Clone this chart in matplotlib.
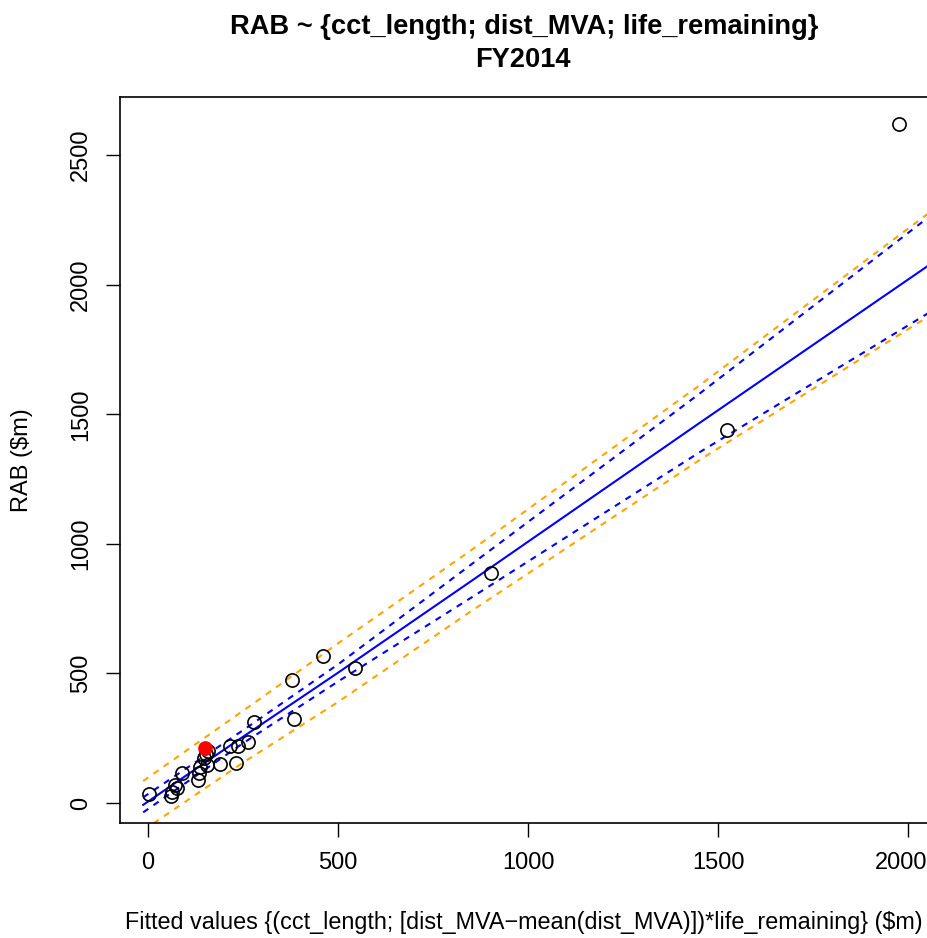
import matplotlib
matplotlib.use("Agg")
import matplotlib.pyplot as plt
import matplotlib.transforms as mtransforms

plt.rcParams['font.family'] = ['Liberation Sans', 'DejaVu Sans']

# fitted values vs RAB ($m)
fitted = [3, 60, 62, 71, 77, 89, 132, 135, 137, 154, 146, 153, 158, 189, 231,
          216, 236, 264, 278, 384, 378, 460, 545, 903, 1524, 1976]
rab = [35, 27, 44, 69, 57, 115, 89, 115, 140, 147, 172, 191, 200, 152, 155,
       220, 220, 237, 312, 324, 475, 568, 520, 887, 1439, 2620]

# highlighted business
hl_fitted = [150]
hl_rab = [213]

# regression line and bands
band_x = [-13, 250, 500, 850, 1450, 2060]
fit_y = [-7, 256, 503, 856, 1465, 2080]
conf_hi = [22, 281, 535, 920, 1578, 2267]
conf_lo = [-36, 231, 469, 792, 1352, 1896]
pred_hi = [85, 356, 616, 975, 1610, 2282]
pred_lo = [-105, 156, 390, 740, 1322, 1883]

fig = plt.figure(figsize=(9.28, 9.38), dpi=100)
ax = fig.add_axes([120 / 928, 1 - 823 / 938, 818 / 928, 726 / 938])

dash = (0, (3, 3))
ax.plot(band_x, pred_hi, color='orange', lw=1.5, linestyle=dash)
ax.plot(band_x, pred_lo, color='orange', lw=1.5, linestyle=dash)
ax.plot(band_x, conf_hi, color='blue', lw=1.5, linestyle=dash)
ax.plot(band_x, conf_lo, color='blue', lw=1.5, linestyle=dash)
ax.plot(band_x, fit_y, color='blue', lw=1.5)

ax.plot(fitted, rab, 'o', mfc='none', mec='black', ms=9.5, mew=1.2)
ax.plot(hl_fitted, hl_rab, 'o', mfc='red', mec='red', ms=9.5)

ax.set_xlim(-74, 2079)
ax.set_ylim(-77, 2724)
ax.set_xticks([0, 500, 1000, 1500, 2000])
ax.set_yticks([0, 500, 1000, 1500, 2000, 2500])
ax.tick_params(labelsize=17, length=10, width=1, pad=11)
ax.tick_params(axis='y', pad=10)
for lbl in ax.get_yticklabels():
    lbl.set_rotation(90)
    lbl.set_va('center')
for s in ax.spines.values():
    s.set_linewidth(1.2)

# last x label sits on the figure edge, nudge it in so it stays whole
last = ax.get_xticklabels()[-1]
last.set_transform(last.get_transform() +
                   mtransforms.ScaledTranslation(-7 / 100, 0, fig.dpi_scale_trans))

fig.text(524 / 928, 1 - 27 / 938, "RAB ~ {cct_length; dist_MVA; life_remaining}",
         ha='center', va='center', fontsize=19.6, fontweight='bold')
fig.text(523 / 928, 1 - 60 / 938, "FY2014", ha='center', va='center',
         fontsize=19.6, fontweight='bold')
fig.text(125 / 928, 1 - 922 / 938,
         "Fitted values {(cct_length; [dist_MVA\u2212mean(dist_MVA)])*life_remaining} ($m)",
         ha='left', va='center', fontsize=16.8)
fig.text(22 / 928, 1 - 460 / 938, "RAB ($m)", ha='center', va='center',
         rotation=90, fontsize=17)

fig.savefig("out.png", dpi=100)
